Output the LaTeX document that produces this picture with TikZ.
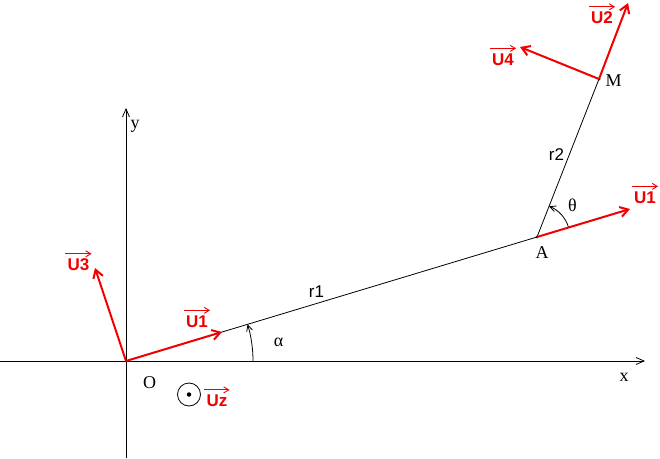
\documentclass[tikz,border=0pt]{standalone}
\usepackage{fontspec}
\setmainfont{Liberation Serif}
\setsansfont{Liberation Sans}
\usetikzlibrary{arrows.meta,calc}
\definecolor{vred}{RGB}{240,0,0}
\tikzset{
  axis/.style={line width=0.8pt,-{Straight Barb[length=8pt,width=7pt]}},
  thin line/.style={line width=0.8pt},
  vec/.style={vred,line width=2pt,-{Straight Barb[length=8pt,width=10pt,line width=2pt]}},
  arcarrow/.style={line width=0.8pt,-{Straight Barb[length=6pt,width=6pt]}},
  ulabel/.style={text=vred,font=\sffamily\bfseries\fontsize{17}{17}\selectfont,inner sep=0pt},
  slabel/.style={font=\sffamily\fontsize{17}{17}\selectfont,inner sep=0pt},
  tlabel/.style={font=\fontsize{18}{18}\selectfont,inner sep=0pt},
  overarr/.style={vred,line width=0.9pt,-{Straight Barb[length=5pt,width=6pt]}},
  pt/.style={circle,fill=black,inner sep=0pt,minimum size=3pt}
}
\begin{document}
\begin{tikzpicture}[x=1pt,y=1pt]
\useasboundingbox (0,0) rectangle (660,458);
% coordinates
\coordinate (O) at (126,97);
\node[pt] (A) at (537,221) {};
\node[pt] (M) at (599,379) {};
\coordinate (xs) at (0,97);
\coordinate (xe) at (645,97);
\coordinate (ys) at (126,0);
\coordinate (ye) at (126,350);
\coordinate (u1e) at (222,126);
\coordinate (u1Ae) at (630,249);
\coordinate (u2e) at (628,455);
\coordinate (u4e) at (520,411);
\coordinate (u3e) at (95,190);
% axes
\draw[axis] (xs) -- (xe);
\draw[axis] (ys) -- (ye);
% lines
\draw[thin line] (O) -- (A.center);
\draw[thin line] (A.center) -- (M.center);
% arcs
\draw[arcarrow] (253,97) arc[start angle=0,end angle=16.8,radius=127];
\draw[arcarrow] ($(A.center)+(16.8:33)$) arc[start angle=16.8,end angle=68.6,radius=33];
% vectors
\draw[vec] (O) -- (u1e);
\draw[vec] (A.center) -- (u1Ae);
\draw[vec] (M.center) -- (u2e);
\draw[vec] (M.center) -- (u4e);
\draw[vec] (O) -- (u3e);
% Uz symbol
\node[circle,draw,line width=0.8pt,minimum size=23pt,inner sep=0pt] (uzc) at (189,63.5) {};
\node[circle,fill=black,minimum size=4.5pt,inner sep=0pt] (uzd) at (uzc.center) {};
% labels
\node[ulabel] (lU1) at (197,136.5) {U1};
\node[ulabel] (lU1A) at (645,260.5) {U1};
\node[ulabel] (lU2) at (602,440) {U2};
\node[ulabel] (lU4) at (503,398.5) {U4};
\node[ulabel] (lU3) at (78.5,193) {U3};
\node[ulabel] (lUz) at (217,57) {Uz};
\foreach \n in {lU1,lU1A,lU2,lU4,lU3,lUz}{
  \draw[overarr] ([xshift=-2pt,yshift=5pt]\n.north west) -- ([xshift=2pt,yshift=5pt]\n.north east);
}
\node[slabel] (r1) at (316.5,166) {r1};
\node[slabel] (r2) at (556.5,303) {r2};
\node[tlabel] (lO) at (149.5,75.5) {O};
\node[tlabel] (lA) at (542,205) {A};
\node[tlabel] (lM) at (613.5,377.5) {M};
\node[tlabel] (lx) at (624,81) {x};
\node[tlabel] (ly) at (135,332) {y};
\node[tlabel] (lal) at (278.5,115.5) {α};
\node[tlabel] (lth) at (572.5,252.5) {θ};
\end{tikzpicture}
\end{document}
